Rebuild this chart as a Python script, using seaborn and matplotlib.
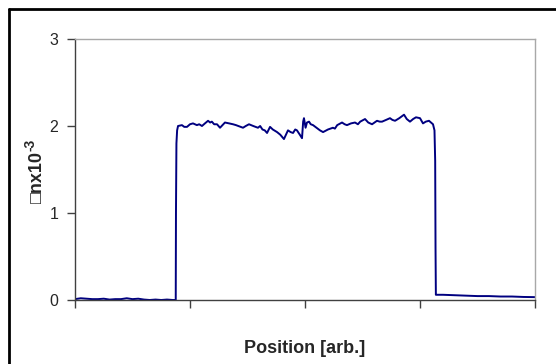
import numpy as np
import pandas as pd
import seaborn as sns
import matplotlib
matplotlib.use('Agg')
import matplotlib.pyplot as plt
from matplotlib.lines import Line2D

# Profile (position in arbitrary units, 0..400)
position = [0, 5, 10, 15, 20, 25, 30, 35, 40, 45, 50, 55, 60, 65, 70, 75, 80, 85, 87.6,
            87.8, 88.2, 88.8, 89.6, 93.0, 95.0, 97.4, 100.0, 102.6, 106.0, 108.0, 110.4,
            113.0, 115.7, 117.5, 119.0, 121.0, 123.5, 126.1, 130.4, 134.0, 137.4, 140.0,
            142.0, 146.1, 148.5, 151.3, 155.0, 157.0, 159.1, 161.0, 163.0, 165.0, 167.0,
            169.6, 172.0, 175.7, 178.5, 181.7, 185.2, 187.5, 189.6, 191.5, 193.0, 195.5,
            197.4, 198.4, 199.1, 200.5, 201.7, 203.5, 205.0, 207.0, 211.0, 213.0, 215.7,
            220.0, 224.3, 226.0, 228.0, 232.2, 234.5, 236.5, 240.0, 243.5, 246.0, 248.0,
            252.2, 255.0, 258.3, 262.6, 265.0, 267.0, 270.5, 273.9, 276.0, 278.3, 282.0,
            286.1, 288.5, 291.3, 294.0, 296.5, 300.0, 302.6, 305.0, 307.8, 311.3, 312.6,
            313.2, 313.5, 313.8, 320, 330, 340, 350, 360, 370, 380, 390, 400]
delta_n = [0.01, 0.02, 0.015, 0.01, 0.01, 0.015, 0.005, 0.01, 0.01, 0.02, 0.01, 0.015,
           0.005, 0.0, 0.005, 0.0, 0.005, 0.0, 0.0,
           1.0, 1.8, 1.95, 2.00, 2.01, 1.99, 1.99, 2.02, 2.03, 2.01, 2.02, 2.00,
           2.03, 2.06, 2.04, 2.05, 2.02, 2.02, 1.98, 2.04, 2.03, 2.02, 2.01,
           2.00, 1.98, 2.00, 2.02, 2.00, 1.99, 1.98, 2.00,
           1.96, 1.95, 1.92, 1.99, 1.96, 1.93, 1.90, 1.85, 1.95, 1.93, 1.92, 1.96, 1.95,
           1.90, 1.86, 2.05, 2.09, 1.98, 2.04, 2.05, 2.02, 2.01, 1.97, 1.95, 1.93,
           1.96, 1.98, 1.97, 2.01, 2.04, 2.02, 2.01, 2.03, 2.04, 2.02, 2.05,
           2.08, 2.04, 2.02, 2.06, 2.05, 2.05, 2.07, 2.09, 2.07, 2.06, 2.09,
           2.13, 2.08, 2.05, 2.08, 2.10, 2.09, 2.03, 2.05, 2.06, 2.02, 1.95,
           1.6, 0.6, 0.06, 0.06, 0.055, 0.05, 0.045, 0.045, 0.04, 0.04, 0.035, 0.033]

df = pd.DataFrame({'Position': position, 'dn': delta_n})

sns.set_style('white')
plt.rcParams['font.family'] = ['Liberation Sans', 'DejaVu Sans']

fig = plt.figure(figsize=(5.56, 3.64), dpi=100)
ax = fig.add_axes([75 / 556, 1 - 300 / 364, 460 / 556, 261 / 364])

sns.lineplot(data=df, x='Position', y='dn', color='#000080', linewidth=1.4, ax=ax)

ax.set_xlim(0, 400)
ax.set_ylim(0, 3)
ax.set_xticks([0, 100, 200, 300, 400])
ax.set_xticklabels([])
ax.set_yticks([0, 1, 2, 3])
ax.tick_params(axis='both', direction='out', length=6, width=1, color='#404040',
               labelsize=11.5, pad=6, left=True, bottom=True)

for side in ['left', 'bottom']:
    ax.spines[side].set_color('#404040')
    ax.spines[side].set_linewidth(1)
for side in ['top', 'right']:
    ax.spines[side].set_color('#a8a8a8')
    ax.spines[side].set_linewidth(1)

ax.set_xlabel('Position [arb.]', fontsize=13, fontweight='bold')
ax.xaxis.set_label_coords(0.5, -0.155)
ax.set_ylabel('')

# y label: "□nx10" with a superscript "-3" (plain hyphen, as in the original)
fig.text(37 / 556, 1 - 203 / 364, '\u25a1nx10', rotation=90, fontsize=13,
         fontweight='bold', ha='center', va='bottom')
fig.text(30.5 / 556, 1 - 151 / 364, '-3', rotation=90, fontsize=10,
         fontweight='bold', ha='center', va='bottom')

# outer chart frame (only top and left edges fall inside the image)
fig.add_artist(Line2D([8.5 / 556, 8.5 / 556], [0, 1 - 8.5 / 364], color='black', linewidth=2))
fig.add_artist(Line2D([8.5 / 556, 1], [1 - 8.5 / 364, 1 - 8.5 / 364], color='black', linewidth=2))

fig.savefig('out.png', dpi=100)
